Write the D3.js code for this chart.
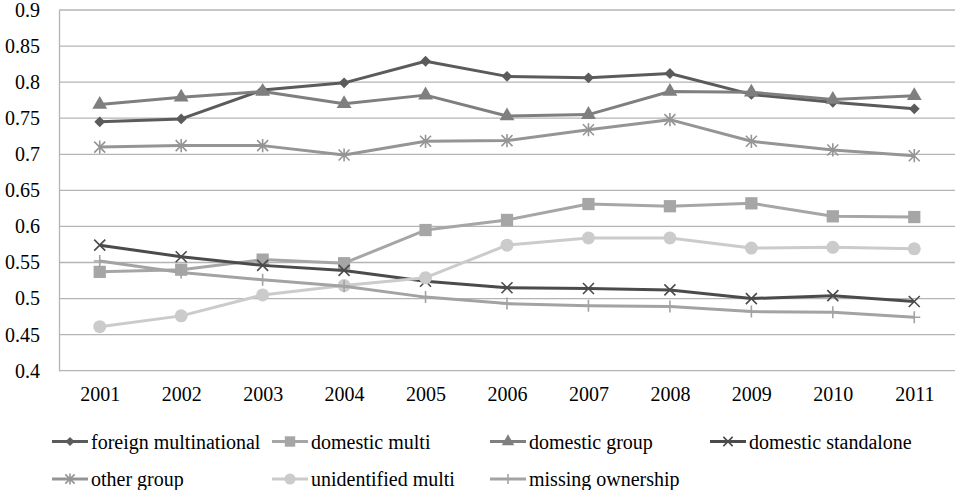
<!DOCTYPE html>
<html>
<head>
<meta charset="utf-8">
<script src="https://cdn.jsdelivr.net/npm/d3@7"></script>
</head>
<body style="margin:0;background:#fff">
<script>
// Years on the category axis
const years = ["2001","2002","2003","2004","2005","2006","2007","2008","2009","2010","2011"];
const yTicks = [0.4, 0.45, 0.5, 0.55, 0.6, 0.65, 0.7, 0.75, 0.8, 0.85, 0.9];

// One array per ownership type
const foreignMultinational = [0.745, 0.749, 0.789, 0.799, 0.829, 0.808, 0.806, 0.812, 0.783, 0.772, 0.763];
const domesticMulti        = [0.537, 0.540, 0.554, 0.549, 0.595, 0.609, 0.631, 0.628, 0.632, 0.614, 0.613];
const domesticGroup        = [0.769, 0.779, 0.787, 0.770, 0.782, 0.753, 0.755, 0.787, 0.786, 0.776, 0.781];
const domesticStandalone   = [0.574, 0.558, 0.546, 0.539, 0.524, 0.515, 0.514, 0.512, 0.500, 0.504, 0.496];
const otherGroup           = [0.710, 0.712, 0.712, 0.699, 0.718, 0.719, 0.734, 0.748, 0.718, 0.706, 0.698];
const unidentifiedMulti    = [0.461, 0.476, 0.505, 0.518, 0.529, 0.574, 0.584, 0.584, 0.570, 0.571, 0.569];
const missingOwnership     = [0.552, 0.536, 0.526, 0.517, 0.502, 0.493, 0.490, 0.489, 0.482, 0.481, 0.474];

const seriesNames = ["foreign multinational", "domestic multi", "domestic group", "domestic standalone",
                     "other group", "unidentified multi", "missing ownership"];
const seriesValues = [foreignMultinational, domesticMulti, domesticGroup, domesticStandalone,
                      otherGroup, unidentifiedMulti, missingOwnership];
const seriesColors = ["#5b5b5b", "#a6a6a6", "#7f7f7f", "#4b4b4b", "#959595", "#cbcbcb", "#a3a3a3"];
const seriesMarkers = ["diamond", "square", "triangle", "x", "asterisk", "circle", "plus"];

const FONT = "Liberation Serif";
const W = 957, H = 490;
const svg = d3.select("body").append("svg")
  .attr("width", W).attr("height", H)
  .style("display", "block");
const margin = { left: 59, right: 2, top: 10, bottom: 119.3 };

const x = d3.scalePoint().domain(years).range([margin.left, W - margin.right]).padding(0.5);
const y = d3.scaleLinear().domain([0.4, 0.9]).range([H - margin.bottom, margin.top]);

// Horizontal gridlines
svg.append("g")
  .selectAll("line")
  .data(yTicks)
  .join("line")
  .attr("x1", margin.left).attr("x2", W - margin.right)
  .attr("y1", d => y(d)).attr("y2", d => y(d))
  .attr("stroke", "#b4b4b4").attr("stroke-width", 1.3);

// Y axis
const yAxis = svg.append("g")
  .attr("transform", `translate(${margin.left},0)`)
  .call(d3.axisLeft(y).tickValues(yTicks).tickSize(0).tickPadding(19)
        .tickFormat(d => String(+d.toFixed(2))));
yAxis.attr("font-family", FONT).attr("font-size", 20);
yAxis.select(".domain").attr("stroke", "#b4b4b4").attr("stroke-width", 1.3);
yAxis.selectAll("text").attr("font-family", FONT).attr("font-size", 20).attr("fill", "#000");

// X axis labels
const xAxis = svg.append("g")
  .attr("transform", `translate(0,${y(0.4)})`)
  .call(d3.axisBottom(x).tickSize(0).tickPadding(16));
xAxis.attr("font-family", FONT).attr("font-size", 20);
xAxis.select(".domain").remove();
xAxis.selectAll("text").attr("font-family", FONT).attr("font-size", 20).attr("fill", "#000");

// Marker drawing
function drawMarker(g, type, color, cx, cy, scale = 1) {
  const s = scale;
  if (type === "diamond") {
    g.append("path").attr("d", d3.symbol(d3.symbolDiamond2, 75 * s * s)())
      .attr("transform", `translate(${cx},${cy})`).attr("fill", color);
  } else if (type === "square") {
    g.append("path").attr("d", d3.symbol(d3.symbolSquare, 150 * s * s)())
      .attr("transform", `translate(${cx},${cy})`).attr("fill", color);
  } else if (type === "triangle") {
    g.append("path").attr("d", d3.symbol(d3.symbolTriangle, 95 * s * s)())
      .attr("transform", `translate(${cx},${cy})`).attr("fill", color);
  } else if (type === "circle") {
    g.append("circle").attr("cx", cx).attr("cy", cy).attr("r", 6.5 * s).attr("fill", color);
  } else if (type === "x") {
    const r = 5.5 * s;
    g.append("path").attr("d", `M${cx - r},${cy - r}L${cx + r},${cy + r}M${cx - r},${cy + r}L${cx + r},${cy - r}`)
      .attr("stroke", color).attr("stroke-width", 1.6).attr("fill", "none");
  } else if (type === "asterisk") {
    const r = 5.5 * s;
    g.append("path").attr("d", `M${cx - r},${cy - r}L${cx + r},${cy + r}M${cx - r},${cy + r}L${cx + r},${cy - r}M${cx},${cy - r * 1.2}L${cx},${cy + r * 1.2}`)
      .attr("stroke", color).attr("stroke-width", 1.6).attr("fill", "none");
  } else if (type === "plus") {
    const r = 6 * s;
    g.append("path").attr("d", `M${cx - r},${cy}L${cx + r},${cy}M${cx},${cy - r}L${cx},${cy + r}`)
      .attr("stroke", color).attr("stroke-width", 1.6).attr("fill", "none");
  }
}

const line = d3.line().x((d, i) => x(years[i])).y(d => y(d));

seriesValues.forEach((vals, si) => {
  const g = svg.append("g").attr("class", "series");
  g.append("path").datum(vals).attr("d", line)
    .attr("fill", "none").attr("stroke", seriesColors[si]).attr("stroke-width", 3)
    .attr("stroke-linejoin", "round");
  vals.forEach((v, i) => drawMarker(g, seriesMarkers[si], seriesColors[si], x(years[i]), y(v)));
});

// Legend: two rows
const legendPos = [
  [52, 441.5], [272, 441.5], [490, 441.5], [710, 441.5],
  [52, 479], [272, 479], [490, 479]
];
seriesNames.forEach((name, si) => {
  const [lx, ly] = legendPos[si];
  const g = svg.append("g").attr("class", "legend-item");
  g.append("line").attr("x1", lx).attr("x2", lx + 36).attr("y1", ly).attr("y2", ly)
    .attr("stroke", seriesColors[si]).attr("stroke-width", 3);
  drawMarker(g, seriesMarkers[si], seriesColors[si], lx + 18, ly, 0.85);
  g.append("text").attr("x", lx + 39).attr("y", ly).attr("dy", "0.35em")
    .attr("font-family", FONT).attr("font-size", 20).attr("fill", "#000").text(name);
});
</script>
</body>
</html>
